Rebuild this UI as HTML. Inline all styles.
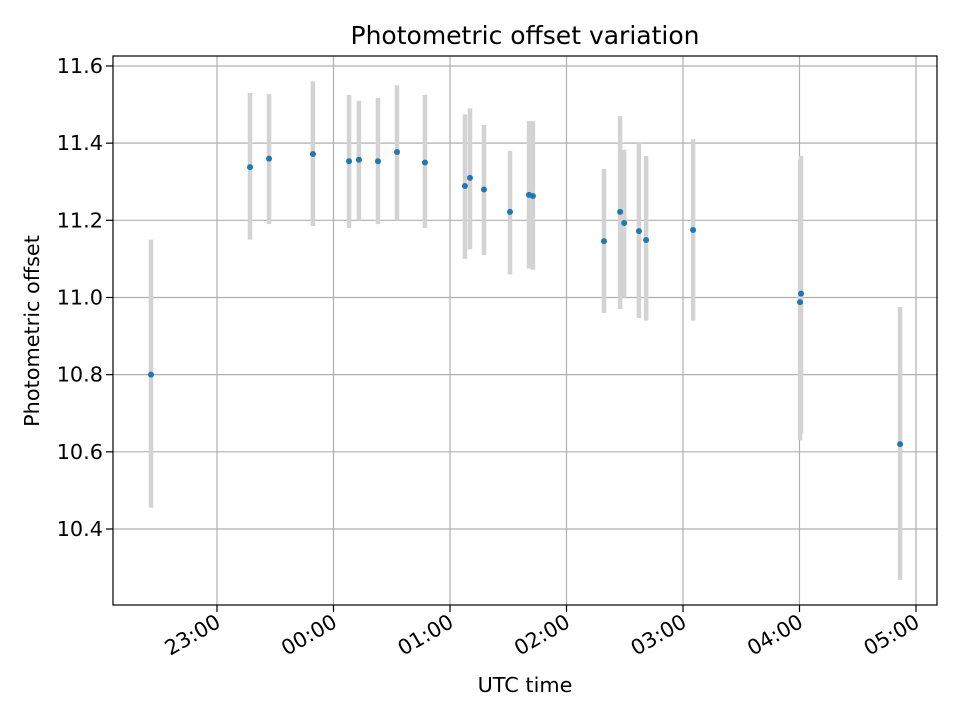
<!DOCTYPE html>
<html><head><meta charset="utf-8"><style>
body{margin:0;background:#fff;font-family:"DejaVu Sans","Liberation Sans",sans-serif;}
svg text{font-family:"DejaVu Sans","Liberation Sans",sans-serif;fill:#000;}
</style></head><body>
<svg id="chart" width="960" height="720" xmlns="http://www.w3.org/2000/svg">
<rect width="960" height="720" fill="#fff"/>
<g id="grid"></g><g id="bars"></g><g id="pts"></g><g id="ticks"></g>
<rect x="113" y="56" width="824" height="549" fill="none" stroke="#000" stroke-width="1.2"/>
<text x="525" y="44" style="font-size:25px" text-anchor="middle">Photometric offset variation</text>
<text x="525" y="692" style="font-size:20.8px" text-anchor="middle">UTC time</text>
<text transform="translate(39,331) rotate(-90)" style="font-size:20.8px" text-anchor="middle">Photometric offset</text>
</svg>
<script>
// minutes since 22:00
const times=[26,77,86.8,109.4,128,133.1,142.9,152.7,167.1,187.7,190.3,197.5,210.9,220.7,222.7,259.3,267.6,269.7,277.3,281,305.2,360.8,360.3,411.8];
const values=[10.80,11.338,11.36,11.372,11.353,11.357,11.353,11.377,11.35,11.289,11.31,11.28,11.222,11.266,11.263,11.146,11.222,11.193,11.172,11.149,11.175,11.01,10.988,10.62];
const upper=[11.15,11.53,11.527,11.56,11.525,11.51,11.517,11.55,11.525,11.475,11.49,11.447,11.38,11.457,11.457,11.333,11.47,11.383,11.40,11.367,11.41,11.367,11.356,10.975];
const lower=[10.455,11.15,11.19,11.185,11.18,11.20,11.19,11.20,11.18,11.10,11.125,11.11,11.06,11.075,11.072,10.96,10.97,11.0,10.947,10.94,10.94,10.65,10.63,10.268];
const yTicks=[10.4,10.6,10.8,11.0,11.2,11.4,11.6];
const xTickMin=[60,120,180,240,300,360,420];
const xTickLabels=["23:00","00:00","01:00","02:00","03:00","04:00","05:00"];
const NS="http://www.w3.org/2000/svg";
const X=m=>217+(m-60)/60*116.5;
const Y=v=>529-(v-10.4)/0.2*77.17;
function mk(p,t,a){const e=document.createElementNS(NS,t);for(const k in a)e.setAttribute(k,a[k]);document.getElementById(p).appendChild(e);return e;}
yTicks.forEach((v,i)=>{
 let l=mk('grid','line',{x1:113,x2:937,y1:Y(v),y2:Y(v),stroke:'#b0b0b0','stroke-width':1.2});
 
 
 mk('ticks','line',{x1:106,x2:113,y1:Y(v),y2:Y(v),stroke:'#000','stroke-width':1.2});
 let t=mk('ticks','text',{x:103,y:Y(v)+7,style:'font-size:20.8px','text-anchor':'end'});
 t.textContent=v.toFixed(1);
 
 
});
xTickMin.forEach((m,i)=>{
 let l=mk('grid','line',{x1:X(m),x2:X(m),y1:56,y2:605,stroke:'#b0b0b0','stroke-width':1.2});
 
 
 mk('ticks','line',{x1:X(m),x2:X(m),y1:605,y2:612,stroke:'#000','stroke-width':1.2});
 let t=mk('ticks','text',{x:X(m)+5,y:626,style:'font-size:20.8px','text-anchor':'end',transform:`rotate(-30 ${X(m)+5} 626)`});
 t.textContent=xTickLabels[i];
 
 
});
times.forEach((m,i)=>{
 let b=mk('bars','line',{x1:X(m),x2:X(m),y1:Y(upper[i]),y2:Y(lower[i]),stroke:'#d3d3d3','stroke-width':4.5});
 
 
 let c=mk('pts','circle',{cx:X(m),cy:Y(values[i]),r:3,fill:'#1f77b4'});
 
 
});
</script>
</body></html>
